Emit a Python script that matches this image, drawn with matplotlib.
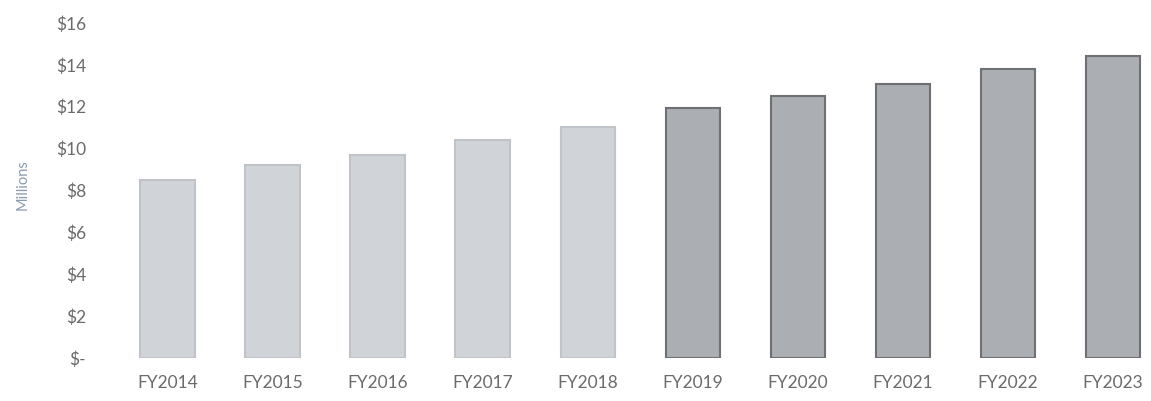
import matplotlib
matplotlib.use("Agg")
import matplotlib.pyplot as plt
from matplotlib.ticker import FuncFormatter

years = ["FY2014", "FY2015", "FY2016", "FY2017", "FY2018",
         "FY2019", "FY2020", "FY2021", "FY2022", "FY2023"]
values = [8.5, 9.2, 9.7, 10.4, 11.05, 11.95, 12.5, 13.1, 13.8, 14.4]
# first five years shown lighter, the rest darker
light = [True] * 5 + [False] * 5

plt.rcParams["font.family"] = ["Lato", "DejaVu Sans"]

fig = plt.figure(figsize=(11.51, 4.01), dpi=100)
ax = fig.add_axes([0.1, 0.107, 0.9, 0.836])

face = ["#d0d4d9" if l else "#abaeb2" for l in light]
edge = ["#c0c4c9" if l else "#6e7073" for l in light]
ax.bar(range(len(years)), values, width=0.52, color=face, edgecolor=edge, linewidth=1.5)

ax.set_ylim(0, 16)
ax.set_xlim(-0.5, 9.36)
ax.set_yticks(range(0, 17, 2))


def money(v, pos):
    return "$-" if v == 0 else "${:.0f}".format(v)


ax.yaxis.set_major_formatter(FuncFormatter(money))
ax.set_xticks(range(len(years)))
ax.set_xticklabels(years)
ax.tick_params(axis="both", length=0, labelsize=12.5, colors="#6b6b6b")
ax.tick_params(axis="y", pad=21)
ax.tick_params(axis="x", pad=12)

for s in ax.spines.values():
    s.set_visible(False)

fig.text(0.02, 0.54, "Millions", rotation=90, ha="center", va="center",
         fontsize=10.5, color="#8a9cae")

fig.savefig("out.png", dpi=100)
